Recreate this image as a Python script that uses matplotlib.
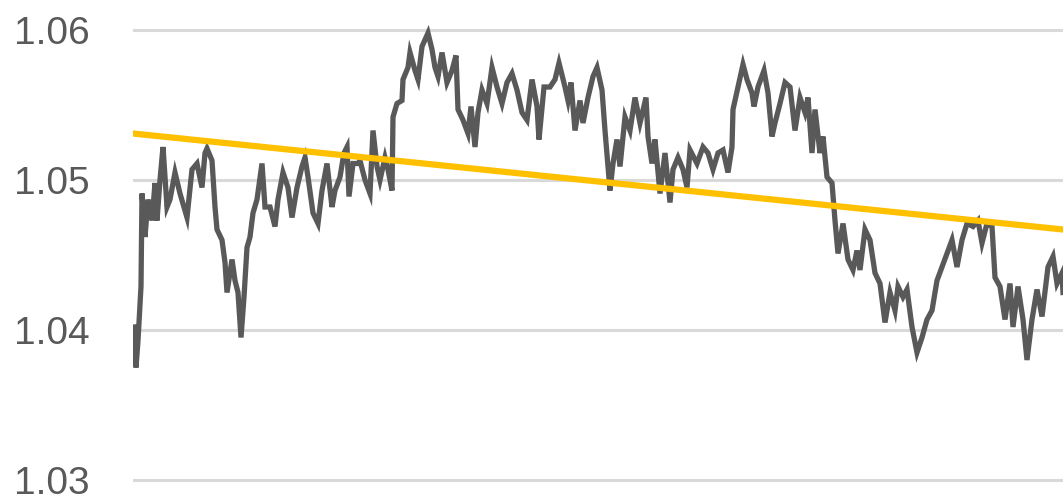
import numpy as np
import matplotlib
matplotlib.use("Agg")
import matplotlib.pyplot as plt

# trading day offsets and exchange rate
days = [1, 3, 5, 8, 9, 10, 12, 15, 19, 22, 24, 27, 30, 34, 37, 42, 47, 54, 59, 64,
        69, 72, 74, 79, 82, 84, 89, 92, 94, 99, 102, 105, 108, 111, 114, 117, 120, 124, 129, 132,
        137, 142, 145, 150, 155, 159, 164, 169, 172, 175, 180, 185, 189, 194, 199, 202, 207, 211, 214, 216,
        220, 225, 227, 232, 237, 240, 244, 247, 252, 255, 259, 260, 264, 269, 270, 275, 277, 282, 285, 289,
        295, 299, 302, 305, 309, 314, 319, 323, 325, 330, 335, 338, 342, 345, 349, 354, 359, 364, 369, 374,
        379, 384, 389, 394, 399, 404, 406, 411, 417, 422, 426, 432, 435, 438, 442, 447, 450, 455, 460, 464,
        469, 472, 477, 480, 484, 487, 492, 497, 502, 507, 513, 515, 519, 522, 527, 532, 537, 540, 545, 550,
        554, 557, 564, 570, 575, 580, 585, 590, 595, 599, 600, 605, 610, 614, 619, 621, 625, 631, 635, 639,
        642, 647, 652, 657, 662, 667, 672, 675, 679, 682, 687, 690, 694, 699, 702, 705, 710, 715, 720, 724,
        727, 732, 737, 742, 747, 752, 757, 762, 765, 770, 774, 779, 784, 789, 794, 799, 804, 809, 814, 819,
        824, 829, 834, 840, 845, 849, 854, 859, 862, 867, 872, 877, 880, 885, 890, 894, 899, 904, 909, 915,
        920, 924, 929, 930]
rate = [1.0402, 1.0375, 1.0393, 1.0429, 1.0491, 1.0482, 1.0462, 1.0487, 1.0473, 1.0498, 1.0473, 1.0500, 1.0522, 1.0482, 1.0487, 1.0505, 1.0491, 1.0475, 1.0507, 1.0511,
        1.0495, 1.0518, 1.0521, 1.0513, 1.0482, 1.0467, 1.0460, 1.0445, 1.0425, 1.0447, 1.0433, 1.0425, 1.0395, 1.0422, 1.0455, 1.0462, 1.0478, 1.0487, 1.0511, 1.0482,
        1.0482, 1.0469, 1.0487, 1.0505, 1.0495, 1.0475, 1.0495, 1.0509, 1.0515, 1.0502, 1.0478, 1.0471, 1.0493, 1.0511, 1.0482, 1.0493, 1.0502, 1.0518, 1.0522, 1.0489,
        1.0511, 1.0511, 1.0513, 1.0500, 1.0491, 1.0533, 1.0509, 1.0500, 1.0515, 1.0507, 1.0493, 1.0542, 1.0551, 1.0553, 1.0567, 1.0575, 1.0585, 1.0573, 1.0567, 1.0589,
        1.0598, 1.0587, 1.0575, 1.0569, 1.0585, 1.0565, 1.0573, 1.0583, 1.0547, 1.0540, 1.0531, 1.0549, 1.0522, 1.0545, 1.0560, 1.0551, 1.0575, 1.0562, 1.0551, 1.0565,
        1.0571, 1.0560, 1.0545, 1.0540, 1.0567, 1.0549, 1.0527, 1.0562, 1.0562, 1.0567, 1.0578, 1.0562, 1.0553, 1.0565, 1.0533, 1.0553, 1.0538, 1.0555, 1.0569, 1.0575,
        1.0560, 1.0533, 1.0493, 1.0511, 1.0527, 1.0509, 1.0542, 1.0533, 1.0555, 1.0538, 1.0555, 1.0529, 1.0511, 1.0527, 1.0491, 1.0518, 1.0485, 1.0507, 1.0515, 1.0507,
        1.0495, 1.0520, 1.0511, 1.0522, 1.0518, 1.0507, 1.0518, 1.0520, 1.0505, 1.0522, 1.0547, 1.0562, 1.0577, 1.0567, 1.0558, 1.0549, 1.0562, 1.0573, 1.0558, 1.0529,
        1.0538, 1.0551, 1.0565, 1.0562, 1.0533, 1.0555, 1.0545, 1.0555, 1.0518, 1.0547, 1.0518, 1.0529, 1.0502, 1.0498, 1.0473, 1.0451, 1.0471, 1.0447, 1.0440, 1.0453,
        1.0440, 1.0467, 1.0460, 1.0438, 1.0431, 1.0405, 1.0425, 1.0413, 1.0429, 1.0422, 1.0427, 1.0402, 1.0385, 1.0395, 1.0407, 1.0413, 1.0433, 1.0442, 1.0451, 1.0460,
        1.0442, 1.0460, 1.0471, 1.0469, 1.0473, 1.0458, 1.0471, 1.0469, 1.0435, 1.0429, 1.0407, 1.0431, 1.0402, 1.0429, 1.0407, 1.0380, 1.0407, 1.0427, 1.0409, 1.0442,
        1.0449, 1.0431, 1.0438, 1.0425]

# linear trendline as shown (start and end value)
trend_days = [0, 930]
trend_rate = [1.0531, 1.0467]

yticks = [1.03, 1.04, 1.05, 1.06]
ytick_labels = ["1.03", "1.04", "1.05", "1.06"]

plt.rcParams['font.family'] = ['Liberation Sans', 'DejaVu Sans']

fig = plt.figure(figsize=(10.63, 4.95), dpi=100)
ax = fig.add_axes([133 / 1063, 0, 930 / 1063, 1])

ax.plot(days, rate, color="#595959", lw=3.8, solid_joinstyle="miter", zorder=3)
ax.plot(trend_days, trend_rate, color="#FFC000", lw=4.5, zorder=4)

ax.set_xlim(0, 930)
ax.set_ylim(1.029, 1.062)
ax.set_yticks(yticks)
ax.set_yticklabels(ytick_labels)
ax.set_xticks([])
ax.grid(axis="y", color="#d9d9d9", lw=2.2)
ax.set_axisbelow(True)
ax.tick_params(axis="y", length=0, pad=31, labelsize=28, labelcolor="#595959")
for s in ax.spines.values():
    s.set_visible(False)

fig.savefig("out.png", dpi=100)
